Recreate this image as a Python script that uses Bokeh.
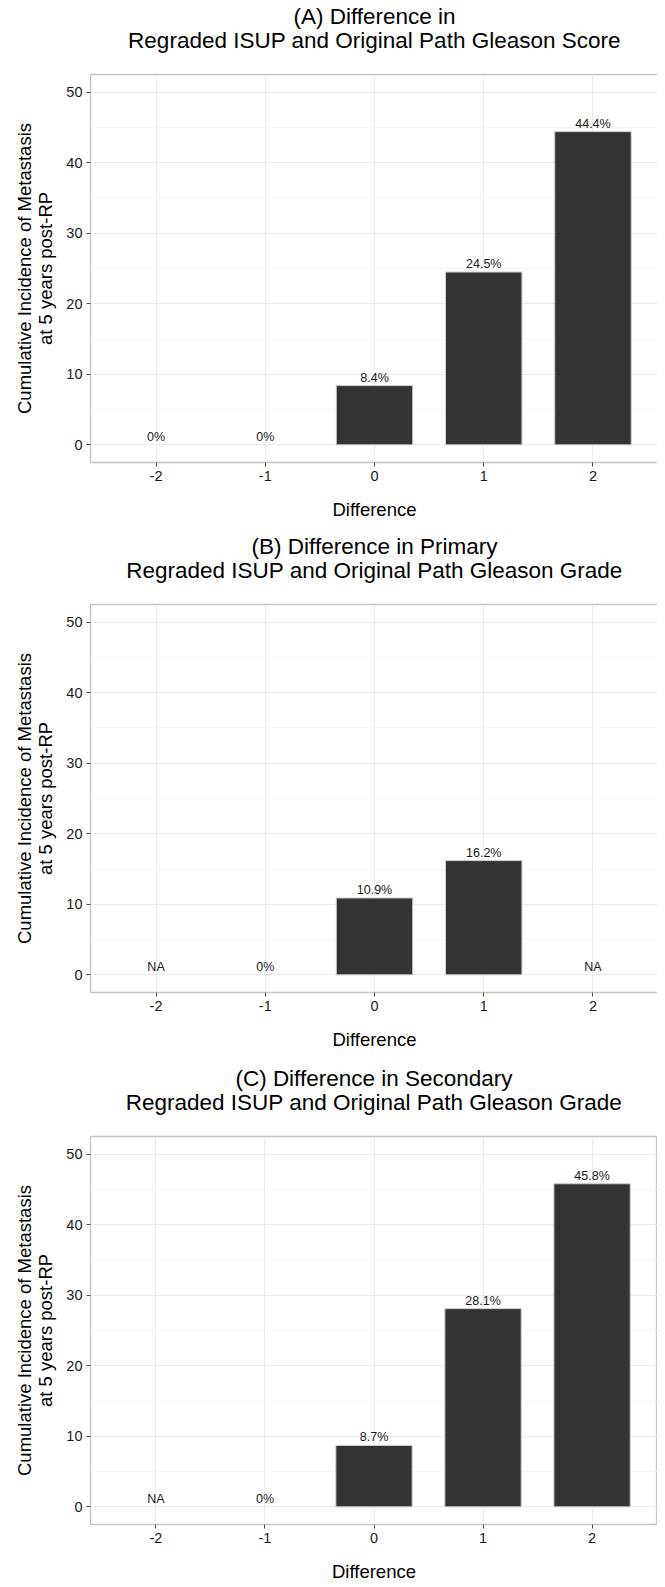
from bokeh.plotting import figure
from bokeh.layouts import column
from bokeh.models import FixedTicker, Range1d, ColumnDataSource, LinearAxis
from bokeh.embed import file_html
from bokeh.resources import INLINE
from bokeh.core.properties import value

# ---- data ----
categories = [-2, -1, 0, 1, 2]
tick_labels = ["-2", "-1", "0", "1", "2"]
values_a = [0.0, 0.0, 8.4, 24.5, 44.4]
values_b = [None, 0.0, 10.9, 16.2, None]
values_c = [None, 0.0, 8.7, 28.1, 45.8]
title_a = "(A) Difference in\nRegraded ISUP and Original Path Gleason Score"
title_b = "(B) Difference in Primary\nRegraded ISUP and Original Path Gleason Grade"
title_c = "(C) Difference in Secondary\nRegraded ISUP and Original Path Gleason Grade"
y_ticks = [0, 10, 20, 30, 40, 50]
y_minor_ticks = [5, 15, 25, 35, 45]
x_label = "Difference"
y_label = "Cumulative Incidence of Metastasis\nat 5 years post-RP"

FONT = "Liberation Sans"


def make_panel(title, vals, top_border, bottom_border, left_border, frame_w, right_border):
    p = figure(frame_width=frame_w, frame_height=388,
               x_range=Range1d(-2.6, 2.6), y_range=Range1d(-2.5, 52.5),
               output_backend="svg", toolbar_location=None,
               min_border_left=left_border, min_border_right=right_border,
               min_border_top=top_border, min_border_bottom=bottom_border)
    p.background_fill_color = "white"
    p.border_fill_color = "white"
    p.outline_line_color = "#C4C4C4"
    p.outline_line_width = 1.3

    xax = p.below[0]
    yax = p.left[0]

    # centred two-line title, carried by a tick-less axis above the frame
    tax = LinearAxis(ticker=FixedTicker(ticks=[]), axis_label=title,
                     axis_line_color=None, major_tick_out=0, major_tick_in=0,
                     minor_tick_out=0, minor_tick_in=0,
                     major_label_standoff=0,
                     major_label_text_font_size="0px",
                     axis_label_standoff=22,
                     axis_label_text_font=FONT, axis_label_text_font_size="22.5px",
                     axis_label_text_font_style="normal",
                     axis_label_text_color="#000000",
                     axis_label_text_line_height=0.94)
    p.add_layout(tax, "above")

    # grids
    p.xgrid.ticker = FixedTicker(ticks=categories)
    p.xgrid.grid_line_color = "#EBEBEB"
    p.ygrid.ticker = FixedTicker(ticks=y_ticks, minor_ticks=y_minor_ticks)
    p.ygrid.grid_line_color = "#EBEBEB"
    p.ygrid.minor_grid_line_color = "#F5F5F5"

    # axes
    xax.ticker = FixedTicker(ticks=categories)
    xax.major_label_overrides = {c: l for c, l in zip(categories, tick_labels)}
    yax.ticker = FixedTicker(ticks=y_ticks, minor_ticks=y_minor_ticks)
    for ax in (xax, yax):
        ax.axis_line_color = None
        ax.major_tick_line_color = "#4D4D4D"
        ax.major_tick_out = 4
        ax.major_tick_in = 0
        ax.minor_tick_line_color = None
        ax.major_label_text_font = FONT
        ax.major_label_text_font_size = "14.5px"
        ax.major_label_text_color = "#1A1A1A"
        ax.major_label_standoff = 4
        ax.axis_label_text_font = FONT
        ax.axis_label_text_font_size = "18.5px"
        ax.axis_label_text_font_style = "normal"
        ax.axis_label_text_color = "#000000"
    xax.axis_label = x_label
    yax.axis_label = y_label
    yax.axis_label_text_line_height = 1.0
    xax.axis_label_text_line_height = 1.0
    xax.axis_label_standoff = 15
    yax.axis_label_standoff = 7

    xs = [c for c, v in zip(categories, vals) if v is not None and v > 0]
    tops = [v for v in vals if v is not None and v > 0]
    p.vbar(x=xs, top=tops, width=0.7, bottom=0,
           fill_color="#333333", line_color="#CFCFCF", line_width=1)

    labels = ["NA" if v is None else f"{v:g}%" for v in vals]
    label_y = [0 if v is None else v for v in vals]
    src = ColumnDataSource(dict(x=categories, y=label_y, t=labels))
    p.text(x="x", y="y", text="t", source=src, text_align="center",
           text_baseline="alphabetic", y_offset=-8,
           text_font=value(FONT), text_font_size="12.5px", text_color="#1A1A1A")
    return p


pa = make_panel(title_a, values_a, 69, 65, 88, 568, 1)
pb = make_panel(title_b, values_b, 77, 67, 88, 568, 1)
pc = make_panel(title_c, values_c, 77, 60, 90, 567, 0)

layout = column(pa, pb, pc)
open("out.html", "w").write(file_html(layout, INLINE))
